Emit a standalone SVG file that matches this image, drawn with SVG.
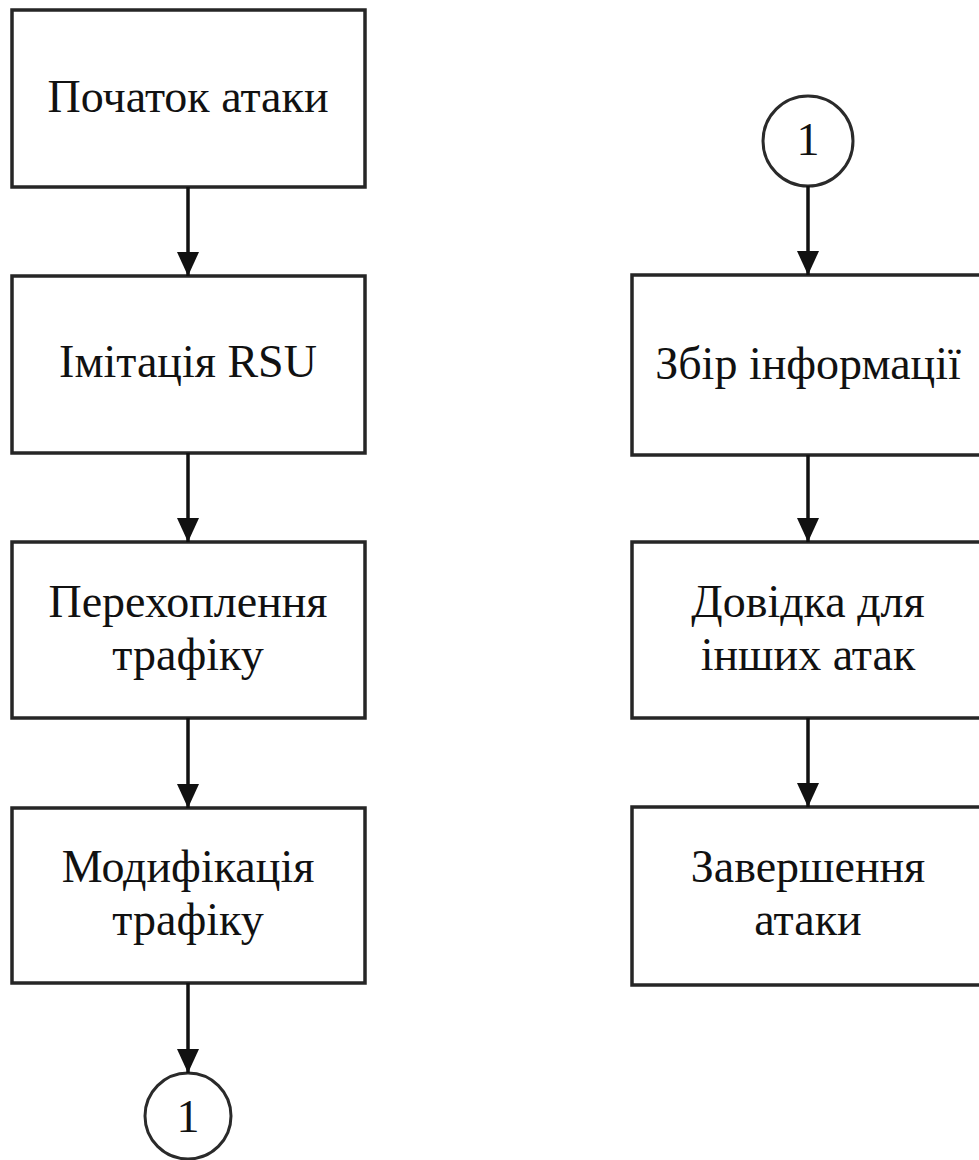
<svg xmlns="http://www.w3.org/2000/svg" width="979" height="1160" viewBox="0 0 979 1160">
  <style>
    .box { fill: #ffffff; stroke: #262626; stroke-width: 3.5; }
    .conn { fill: #ffffff; stroke: #2a2a2a; stroke-width: 3; }
    .lbl { font-family: "Liberation Serif", "Times New Roman", serif; font-size: 46px; fill: #111111; text-anchor: middle; }
    .edge { stroke: #111111; stroke-width: 3.5; fill: none; marker-end: url(#arrow); }
  </style>
  <defs>
    <!-- filled triangular arrowhead, tip at the line end -->
    <marker id="arrow" markerWidth="24" markerHeight="22" refX="24" refY="11" orient="auto" markerUnits="userSpaceOnUse" viewBox="0 0 24 22">
      <path d="M0,0 L24,11 L0,22 Z" fill="#111111"/>
    </marker>
  </defs>
  <rect width="979" height="1160" fill="#ffffff"/>

  <!-- left column -->
  <g id="start">
    <rect class="box" x="12" y="10" width="353" height="177"/>
    <text class="lbl" x="188" y="112">Початок атаки</text>
  </g>
  <g id="rsu">
    <rect class="box" x="12" y="276" width="353" height="177"/>
    <text class="lbl" x="188" y="377">Імітація RSU</text>
  </g>
  <g id="intercept">
    <rect class="box" x="12" y="542" width="353" height="176"/>
    <text class="lbl" x="188" y="617">Перехоплення</text>
    <text class="lbl" x="188" y="670">трафіку</text>
  </g>
  <g id="modify">
    <rect class="box" x="12" y="808" width="353" height="175"/>
    <text class="lbl" x="188" y="882">Модифікація</text>
    <text class="lbl" x="188" y="935">трафіку</text>
  </g>
  <g id="connector-out">
    <circle class="conn" cx="188" cy="1116" r="43"/>
    <text class="lbl" x="188" y="1132">1</text>
  </g>

  <!-- right column -->
  <g id="connector-in">
    <circle class="conn" cx="808" cy="141" r="45"/>
    <text class="lbl" x="808" y="155">1</text>
  </g>
  <g id="collect">
    <rect class="box" x="632" y="275" width="353" height="180"/>
    <text class="lbl" x="808" y="379">Збір інформації</text>
  </g>
  <g id="reference">
    <rect class="box" x="632" y="542" width="353" height="176"/>
    <text class="lbl" x="808" y="617">Довідка для</text>
    <text class="lbl" x="808" y="670">інших атак</text>
  </g>
  <g id="finish">
    <rect class="box" x="632" y="807" width="353" height="178"/>
    <text class="lbl" x="808" y="882">Завершення</text>
    <text class="lbl" x="808" y="935">атаки</text>
  </g>

  <g id="connectors">
    <line class="edge" x1="188" y1="187" x2="188" y2="276"/>
    <line class="edge" x1="188" y1="453" x2="188" y2="542"/>
    <line class="edge" x1="188" y1="718" x2="188" y2="808"/>
    <line class="edge" x1="188" y1="983" x2="188" y2="1073"/>
    <line class="edge" x1="808" y1="186" x2="808" y2="275"/>
    <line class="edge" x1="808" y1="455" x2="808" y2="542"/>
    <line class="edge" x1="808" y1="718" x2="808" y2="807"/>
  </g>
</svg>
